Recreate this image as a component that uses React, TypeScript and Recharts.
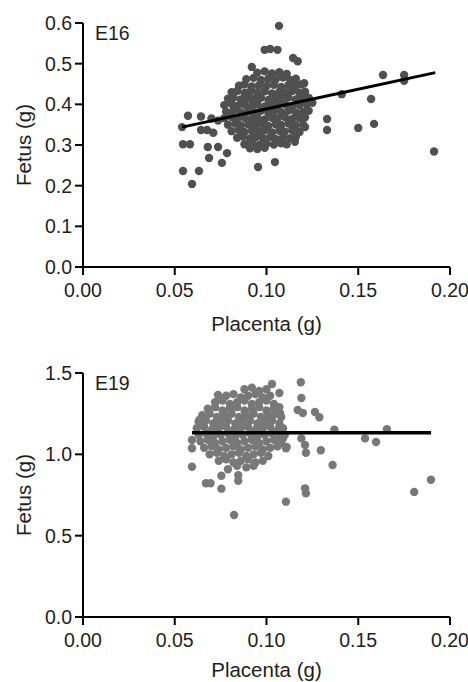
import React from 'react';
import { ScatterChart, Scatter, XAxis, YAxis } from 'recharts';

const FONT = '"Liberation Sans", Arial, Helvetica, sans-serif';

const xTicks = [0, 0.05, 0.1, 0.15, 0.2];
const e16YTicks = [0, 0.1, 0.2, 0.3, 0.4, 0.5, 0.6];
const e19YTicks = [0, 0.5, 1.0, 1.5];

// E16: placenta (g), fetus (g)
const e16Outliers: [number, number][] = [
  [0.1068, 0.593], [0.099, 0.534], [0.102, 0.536], [0.106, 0.534], [0.1145, 0.514], [0.117, 0.506],
  [0.092, 0.492], [0.1635, 0.472], [0.175, 0.472], [0.175, 0.458], [0.141, 0.425], [0.157, 0.413],
  [0.1586, 0.352], [0.150, 0.342], [0.133, 0.364], [0.133, 0.337], [0.1913, 0.284], [0.125, 0.404],
  [0.1205, 0.452], [0.1155, 0.308], [0.1046, 0.258], [0.0954, 0.246], [0.0785, 0.280], [0.0757, 0.256],
  [0.0687, 0.268], [0.068, 0.295], [0.0736, 0.295], [0.0545, 0.236], [0.0632, 0.236], [0.0594, 0.204],
  [0.0545, 0.302], [0.0583, 0.302], [0.054, 0.344], [0.0572, 0.372], [0.0643, 0.370], [0.0643, 0.337],
  [0.070, 0.365], [0.0676, 0.337], [0.071, 0.330], [0.0736, 0.360], [0.121, 0.344],
];

const e16Cluster: [number, number][] = [
  [0.095, 0.478], [0.099, 0.481], [0.103, 0.476], [0.107, 0.479], [0.111, 0.475],
  [0.089, 0.462], [0.093, 0.465], [0.097, 0.460], [0.101, 0.463], [0.105, 0.461], [0.109, 0.466], [0.113, 0.460], [0.116, 0.463],
  [0.085, 0.446], [0.088, 0.449], [0.092, 0.444], [0.096, 0.447], [0.100, 0.445], [0.104, 0.448], [0.108, 0.443], [0.112, 0.447], [0.116, 0.445], [0.119, 0.449],
  [0.081, 0.430], [0.084, 0.433], [0.088, 0.428], [0.091, 0.431], [0.095, 0.429], [0.099, 0.432], [0.103, 0.427], [0.107, 0.431], [0.110, 0.429], [0.114, 0.433], [0.118, 0.428], [0.121, 0.431],
  [0.079, 0.414], [0.082, 0.417], [0.086, 0.412], [0.090, 0.415], [0.093, 0.413], [0.097, 0.416], [0.101, 0.411], [0.105, 0.415], [0.108, 0.413], [0.112, 0.417], [0.116, 0.412], [0.120, 0.414], [0.123, 0.416],
  [0.077, 0.398], [0.081, 0.401], [0.084, 0.396], [0.088, 0.399], [0.092, 0.397], [0.095, 0.400], [0.099, 0.395], [0.103, 0.399], [0.106, 0.397], [0.110, 0.401], [0.114, 0.396], [0.118, 0.398], [0.122, 0.400],
  [0.078, 0.382], [0.082, 0.385], [0.086, 0.380], [0.090, 0.383], [0.093, 0.381], [0.097, 0.384], [0.101, 0.379], [0.104, 0.383], [0.108, 0.381], [0.112, 0.385], [0.116, 0.380], [0.120, 0.382], [0.123, 0.384],
  [0.077, 0.366], [0.081, 0.369], [0.084, 0.364], [0.088, 0.367], [0.092, 0.365], [0.095, 0.368], [0.099, 0.363], [0.103, 0.367], [0.106, 0.365], [0.110, 0.369], [0.114, 0.364], [0.118, 0.366], [0.121, 0.368],
  [0.079, 0.350], [0.083, 0.353], [0.086, 0.348], [0.090, 0.351], [0.094, 0.349], [0.097, 0.352], [0.101, 0.347], [0.105, 0.351], [0.108, 0.349], [0.112, 0.353], [0.116, 0.348], [0.120, 0.350],
  [0.081, 0.334], [0.085, 0.337], [0.088, 0.332], [0.092, 0.335], [0.096, 0.333], [0.099, 0.336], [0.103, 0.331], [0.107, 0.335], [0.110, 0.333], [0.114, 0.337], [0.118, 0.332],
  [0.084, 0.318], [0.087, 0.321], [0.091, 0.316], [0.094, 0.319], [0.098, 0.317], [0.102, 0.320], [0.105, 0.315], [0.109, 0.319], [0.113, 0.317], [0.116, 0.320],
  [0.088, 0.302], [0.092, 0.305], [0.096, 0.300], [0.100, 0.303], [0.104, 0.301], [0.108, 0.304], [0.111, 0.302],
  [0.091, 0.292], [0.095, 0.290], [0.099, 0.293],
];

const e16Fit: [number, number][] = [[0.054, 0.344], [0.192, 0.478]];

// E19: placenta (g), fetus (g)
const e19Outliers: [number, number][] = [
  [0.0823, 0.627], [0.1106, 0.709], [0.121, 0.791], [0.1215, 0.760], [0.1805, 0.769], [0.1896, 0.844],
  [0.136, 0.934], [0.1296, 1.025], [0.1537, 1.098], [0.1597, 1.076], [0.1656, 1.154], [0.137, 1.152],
  [0.1187, 1.443], [0.1030, 1.432], [0.119, 1.346], [0.117, 1.273], [0.1198, 1.254], [0.1264, 1.260],
  [0.1288, 1.228], [0.0736, 1.365], [0.0594, 0.924], [0.0594, 1.088], [0.0594, 1.037], [0.0670, 0.822],
  [0.0695, 0.822], [0.0754, 0.789], [0.0754, 0.868], [0.0790, 0.908], [0.0846, 0.871], [0.0846, 0.838],
  [0.0635, 1.213], [0.109, 1.098], [0.1106, 1.037], [0.119, 1.098], [0.121, 1.057], [0.1215, 1.010],
  [0.107, 1.377], [0.1074, 1.252], [0.111, 1.045],
];

const e19Cluster: [number, number][] = [
  [0.088, 1.40], [0.092, 1.41], [0.096, 1.39], [0.100, 1.40],
  [0.078, 1.36], [0.082, 1.37], [0.086, 1.35], [0.090, 1.36], [0.094, 1.37], [0.098, 1.35], [0.102, 1.36],
  [0.072, 1.32], [0.076, 1.33], [0.080, 1.31], [0.084, 1.32], [0.088, 1.33], [0.092, 1.31], [0.096, 1.32], [0.100, 1.33], [0.104, 1.31],
  [0.068, 1.28], [0.072, 1.29], [0.076, 1.27], [0.080, 1.28], [0.084, 1.29], [0.088, 1.27], [0.092, 1.28], [0.096, 1.29], [0.100, 1.27], [0.104, 1.28], [0.107, 1.29],
  [0.065, 1.24], [0.069, 1.25], [0.073, 1.23], [0.077, 1.24], [0.081, 1.25], [0.085, 1.23], [0.089, 1.24], [0.093, 1.25], [0.097, 1.23], [0.101, 1.24], [0.105, 1.25], [0.108, 1.23],
  [0.063, 1.20], [0.067, 1.21], [0.071, 1.19], [0.075, 1.20], [0.079, 1.21], [0.083, 1.19], [0.087, 1.20], [0.091, 1.21], [0.095, 1.19], [0.099, 1.20], [0.103, 1.21], [0.107, 1.19],
  [0.062, 1.16], [0.066, 1.17], [0.070, 1.15], [0.074, 1.16], [0.078, 1.17], [0.082, 1.15], [0.086, 1.16], [0.090, 1.17], [0.094, 1.15], [0.098, 1.16], [0.102, 1.17], [0.106, 1.15], [0.109, 1.16],
  [0.063, 1.12], [0.067, 1.13], [0.071, 1.11], [0.075, 1.12], [0.079, 1.13], [0.083, 1.11], [0.087, 1.12], [0.091, 1.13], [0.095, 1.11], [0.099, 1.12], [0.103, 1.13], [0.107, 1.11], [0.110, 1.12],
  [0.064, 1.08], [0.068, 1.09], [0.072, 1.07], [0.076, 1.08], [0.080, 1.09], [0.084, 1.07], [0.088, 1.08], [0.092, 1.09], [0.096, 1.07], [0.100, 1.08], [0.104, 1.09], [0.108, 1.07],
  [0.066, 1.04], [0.070, 1.05], [0.074, 1.03], [0.078, 1.04], [0.082, 1.05], [0.086, 1.03], [0.090, 1.04], [0.094, 1.05], [0.098, 1.03], [0.102, 1.04], [0.106, 1.05],
  [0.069, 1.00], [0.073, 1.01], [0.077, 0.99], [0.081, 1.00], [0.085, 1.01], [0.089, 0.99], [0.093, 1.00], [0.097, 1.01], [0.101, 0.99],
  [0.074, 0.96], [0.078, 0.97], [0.082, 0.95], [0.086, 0.96], [0.090, 0.97], [0.094, 0.95], [0.098, 0.96],
  [0.084, 0.93], [0.089, 0.92], [0.093, 0.93],
];

const e19Fit: [number, number][] = [[0.0594, 1.133], [0.1897, 1.133]];

const toObj = (arr: [number, number][]) => arr.map(([x, y]) => ({ x, y }));

const tickStyle = { fontSize: 19.5, fill: '#1e1e1e', fontFamily: FONT };

type PanelProps = {
  points: [number, number][];
  fit: [number, number][];
  yTicks: number[];
  yMax: number;
  dotColor: string;
  height: number;
  marginTop: number;
  xAxisHeight: number;
  xTitleOffset: number;
  lineWidth: number;
};

function Panel(p: PanelProps) {
  const dot = (props: any) => <circle cx={props.cx} cy={props.cy} r={4.2} fill={p.dotColor} />;
  return (
    <ScatterChart
      width={468}
      height={p.height}
      margin={{ top: p.marginTop, right: 18, bottom: 0, left: 0 }}
      style={{ fontFamily: FONT }}
    >
      <XAxis
        type="number"
        dataKey="x"
        domain={[0, 0.2]}
        ticks={xTicks}
        interval={0}
        tickFormatter={(v: number) => v.toFixed(2)}
        axisLine={{ stroke: '#000', strokeWidth: 2 }}
        tickLine={{ stroke: '#000', strokeWidth: 2 }}
        tickSize={8}
        tickMargin={8}
        tick={tickStyle}
        height={p.xAxisHeight}
        label={{
          value: 'Placenta (g)',
          position: 'insideBottom',
          offset: p.xTitleOffset,
          style: { fontSize: 20.5, fill: '#1e1e1e', fontFamily: FONT },
        }}
      />
      <YAxis
        type="number"
        dataKey="y"
        domain={[0, p.yMax]}
        ticks={p.yTicks}
        interval={0}
        tickFormatter={(v: number) => v.toFixed(1)}
        axisLine={{ stroke: '#000', strokeWidth: 2 }}
        tickLine={{ stroke: '#000', strokeWidth: 2 }}
        tickSize={8}
        tickMargin={3}
        tick={tickStyle}
        width={83}
        label={{
          value: 'Fetus (g)',
          angle: -90,
          position: 'insideLeft',
          offset: 24,
          style: { textAnchor: 'middle', fontSize: 20.5, fill: '#1e1e1e', fontFamily: FONT },
        }}
      />
      <Scatter data={toObj(p.points)} shape={dot} isAnimationActive={false} />
      <Scatter
        data={toObj(p.fit)}
        line={{ stroke: '#000', strokeWidth: p.lineWidth }}
        shape={() => <g />}
        isAnimationActive={false}
      />
    </ScatterChart>
  );
}

export default function App() {
  const labelStyle: React.CSSProperties = {
    position: 'absolute',
    left: 95,
    fontSize: 19.5,
    lineHeight: '20px',
    fontFamily: FONT,
    color: '#1e1e1e',
  };
  return (
    <div style={{ position: 'absolute', left: 0, top: 0, width: 468, height: 682, background: '#fff' }}>
      <div style={{ position: 'absolute', left: 0, top: 0 }}>
        <Panel
          points={[...e16Cluster, ...e16Outliers]}
          fit={e16Fit}
          yTicks={e16YTicks}
          yMax={0.6}
          dotColor="#505050"
          height={340}
          marginTop={23}
          xAxisHeight={73}
          xTitleOffset={9}
          lineWidth={3}
        />
      </div>
      <div style={{ position: 'absolute', left: 0, top: 340 }}>
        <Panel
          points={[...e19Cluster, ...e19Outliers]}
          fit={e19Fit}
          yTicks={e19YTicks}
          yMax={1.5}
          dotColor="#787878"
          height={342}
          marginTop={33}
          xAxisHeight={65}
          xTitleOffset={5}
          lineWidth={3.5}
        />
      </div>
      <div style={{ ...labelStyle, top: 23 }}>E16</div>
      <div style={{ ...labelStyle, top: 373 }}>E19</div>
    </div>
  );
}
